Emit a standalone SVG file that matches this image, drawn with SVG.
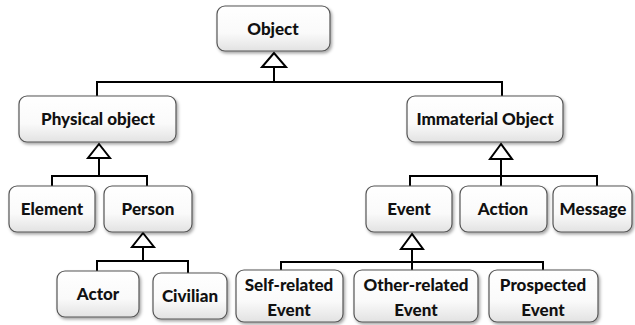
<svg xmlns="http://www.w3.org/2000/svg" width="635" height="325" viewBox="0 0 635 325">
<defs>
<linearGradient id="g" x1="0" y1="0" x2="0" y2="1">
<stop offset="0" stop-color="#ffffff"/>
<stop offset="0.6" stop-color="#fafafa"/>
<stop offset="1" stop-color="#e2e2e2"/>
</linearGradient>
<filter id="sh" x="-10%" y="-10%" width="130%" height="140%">
<feDropShadow dx="1.5" dy="2" stdDeviation="1.5" flood-color="#000" flood-opacity="0.35"/>
</filter>
</defs>
<style>
.box{fill:url(#g);stroke:#555;stroke-width:1.2;filter:url(#sh)}
.t{font-family:Lato,"Liberation Sans",sans-serif;font-weight:900;font-size:17px;fill:#111;text-anchor:middle}
.c{fill:none;stroke:#000;stroke-width:2}
.tri{fill:#fff;stroke:#000;stroke-width:2;stroke-linejoin:miter}
</style>
<rect width="635" height="325" fill="#fff"/>
<g id="connectors">
<path class="c" d="M274 67 V81 M97 96 V82 H502 V96"/>
<polygon class="tri" points="274,53 262,67 286,67"/>
<path class="c" d="M99 158 V176 M52 186 V176 H147 V186"/>
<polygon class="tri" points="99,144 88,158 110,158"/>
<path class="c" d="M143 247 V261 M97 271 V261 H188 V273"/>
<polygon class="tri" points="143,233 132,247 154,247"/>
<path class="c" d="M501 159 V176 M410 186 V176 H597 V186 M501 176 V186"/>
<polygon class="tri" points="501,144 490,159 512,159"/>
<path class="c" d="M412 249 V262 M281 270 V262 H543 V270 M412 262 V270"/>
<polygon class="tri" points="412,234 401,249 423,249"/>
</g>
<g id="object"><rect class="box" x="217" y="6" width="113" height="45" rx="8"/><text class="t" x="273" y="35">Object</text></g>
<g id="physical"><rect class="box" x="19" y="96" width="157" height="46" rx="8"/><text class="t" x="98" y="125">Physical object</text></g>
<g id="immaterial"><rect class="box" x="407" y="96" width="156" height="46" rx="8"/><text class="t" x="485" y="125">Immaterial Object</text></g>
<g id="element"><rect class="box" x="9" y="186" width="86" height="46" rx="8"/><text class="t" x="52" y="215">Element</text></g>
<g id="person"><rect class="box" x="104" y="186" width="88" height="46" rx="8"/><text class="t" x="148" y="215">Person</text></g>
<g id="event"><rect class="box" x="366" y="186" width="86" height="46" rx="8"/><text class="t" x="409" y="215">Event</text></g>
<g id="action"><rect class="box" x="460" y="186" width="87" height="46" rx="8"/><text class="t" x="503" y="215">Action</text></g>
<g id="message"><rect class="box" x="553" y="186" width="79" height="46" rx="8"/><text class="t" x="593" y="215">Message</text></g>
<g id="actor"><rect class="box" x="57" y="271" width="82" height="46" rx="8"/><text class="t" x="98" y="300">Actor</text></g>
<g id="civilian"><rect class="box" x="153" y="273" width="74" height="46" rx="8"/><text class="t" x="190" y="302">Civilian</text></g>
<g id="self"><rect class="box" x="236" y="270" width="107" height="52" rx="8"/><text class="t" x="289" y="291">Self-related</text><text class="t" x="289" y="316">Event</text></g>
<g id="other"><rect class="box" x="354" y="270" width="124" height="52" rx="8"/><text class="t" x="416" y="291">Other-related</text><text class="t" x="416" y="316">Event</text></g>
<g id="prospected"><rect class="box" x="489" y="270" width="109" height="52" rx="8"/><text class="t" x="543" y="291">Prospected</text><text class="t" x="543" y="316">Event</text></g>
</svg>
